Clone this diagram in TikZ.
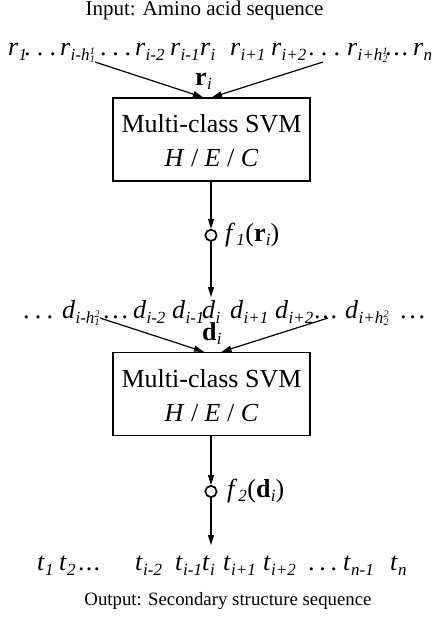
\documentclass[tikz,border=0pt]{standalone}
\usepackage{fontspec}
\setmainfont{Liberation Serif}
\usetikzlibrary{arrows.meta}
\newcommand\sqfont{\fontsize{26}{30}\selectfont}
\newcommand\sbfont{\fontsize{17}{17}\selectfont}
\newcommand\tnfont{\fontsize{10}{10}\selectfont}
\newcommand\sq[2]{\textit{#1}\kern0.3pt\lower5pt\hbox{\sbfont\itshape #2}}
\newcommand\hh[2]{h\kern0.3pt\rlap{\raise6pt\hbox{\tnfont\itshape #2}}\lower2pt\hbox{\tnfont\itshape #1}}
\newcommand\dts[1]{\hbox to #1{.\hfil.\hfil.}}
\newcommand\bsq[2]{\textbf{#1}\kern0.3pt\lower4pt\hbox{\sbfont\itshape #2}}
\begin{document}
\begin{tikzpicture}[x=1pt,y=-1pt,
  seq/.style={anchor=base west, inner sep=0pt, font=\sqfont},
  svm/.style={draw, line width=1.4pt, minimum width=197pt, minimum height=83pt, inner sep=0pt},
  svmtxt/.style={anchor=base, inner sep=0pt, font=\fontsize{26}{30}\selectfont},
  arr/.style={-{Triangle[length=10pt,width=6pt]}, line width=1.2pt},
  junc/.style={circle, draw, line width=1.7pt, minimum size=11.3pt, inner sep=0pt},
  captxt/.style={anchor=base, inner sep=0pt}]
\useasboundingbox (0,0) rectangle (436,619);
% input caption
\node[captxt, font=\fontsize{21}{24}\selectfont] (inp) at (204.5,15) {Input: Amino acid sequence};
% r row
\node[seq] (r1) at (8,55) {\sq{r}{1}};
\node[seq] (rd1) at (24,55) {\dts{32pt}};
\node[seq] (rh1) at (60,55) {\sq{r}{i-\hh{1}{1}}};
\node[seq] (rd2) at (100,55) {\dts{31pt}};
\node[seq] (rm2) at (135,55) {\sq{r}{i-2}};
\node[seq] (rm1) at (170,55) {\sq{r}{i-1}};
\node[seq] (ri) at (200,55) {\sq{r}{i}};
\node[seq] (rp1) at (230,55) {\sq{r}{i+1}};
\node[seq] (rp2) at (271,55) {\sq{r}{i+2}};
\node[seq] (rd3) at (308,55) {\dts{32pt}};
\node[seq] (rh2) at (347,55) {\sq{r}{i+\hh{2}{1}}};
\node[seq] (rd4) at (385,55) {\dts{23pt}};
\node[seq] (rn) at (413,55) {\sq{r}{n}};
\node[seq] (rvec) at (195,85) {\bsq{r}{i}};
% box 1
\node[svm] (box1) at (211.5,139.5) {};
\node[svmtxt] (box1a) at (211.5,132.5) {Multi-class SVM};
\node[svmtxt] (box1b) at (211.5,166.5) {\textit{H} / \textit{E} / \textit{C}};
\coordinate (s1) at (95,62);
\coordinate (s2) at (323,62);
\draw[arr] (s1) -- ([xshift=-8.5pt]box1.north);
\draw[arr] (s2) -- ([xshift=0.5pt]box1.north);
% junction 1
\node[junc] (c1) at (211,235.3) {};
\node[seq, font=\fontsize{26}{30}\selectfont] (f1) at (225,241) {\textit{f}\kern1pt\lower4pt\hbox{\sbfont\itshape 1}\kern0.5pt(\bsq{r}{i})};
\coordinate (dtop) at (211,297);
\draw[arr] (box1.south -| c1) -- (c1.north);
\draw[arr] (c1.south) -- (dtop);
% d row
\node[seq] (dd1) at (23,318) {\dts{30pt}};
\node[seq] (dh1) at (62,318) {\sq{d}{i-\hh{1}{2}}};
\node[seq] (dd2) at (103,318) {\dts{25pt}};
\node[seq] (dm2) at (133,318) {\sq{d}{i-2}};
\node[seq] (dm1) at (172,318) {\sq{d}{i-1}};
\node[seq] (di) at (202,318) {\sq{d}{i}};
\node[seq] (dp1) at (230,318) {\sq{d}{i+1}};
\node[seq] (dp2) at (275,318) {\sq{d}{i+2}};
\node[seq] (dd3) at (314,318) {\dts{23pt}};
\node[seq] (dh2) at (345,318) {\sq{d}{i+\hh{2}{2}}};
\node[seq] (dd4) at (400,318) {\dts{25pt}};
\node[seq] (dvec) at (202,340) {\bsq{d}{i}};
% box 2
\node[svm] (box2) at (211.5,394) {};
\node[svmtxt] (box2a) at (211.5,387.5) {Multi-class SVM};
\node[svmtxt] (box2b) at (211.5,421.5) {\textit{H} / \textit{E} / \textit{C}};
\coordinate (s3) at (100,318);
\coordinate (s4) at (328,318);
\draw[arr] (s3) -- ([xshift=-7.5pt]box2.north);
\draw[arr] (s4) -- ([xshift=10pt]box2.north);
% junction 2
\node[junc] (c2) at (211,491.5) {};
\node[seq, font=\fontsize{26}{30}\selectfont] (f2) at (227,497.5) {\textit{f}\kern1pt\lower4pt\hbox{\sbfont\itshape 2}\kern0.5pt(\bsq{d}{i})};
\coordinate (ttop) at (211,545);
\draw[arr] (box2.south -| c2) -- (c2.north);
\draw[arr] (c2.south) -- (ttop);
% t row
\node[seq] (t1) at (37,570) {\sq{t}{1}};
\node[seq] (t2) at (59,570) {\sq{t}{2}};
\node[seq] (td1) at (78,570) {\dts{22pt}};
\node[seq] (tm2) at (135,570) {\sq{t}{i-2}};
\node[seq] (tm1) at (175,570) {\sq{t}{i-1}};
\node[seq] (ti) at (202,570) {\sq{t}{i}};
\node[seq] (tp1) at (223,570) {\sq{t}{i+1}};
\node[seq] (tp2) at (263,570) {\sq{t}{i+2}};
\node[seq] (td2) at (308,570) {\dts{29pt}};
\node[seq] (tn1) at (343,570) {\sq{t}{n-1}};
\node[seq] (tn) at (390,570) {\sq{t}{n}};
% output caption
\node[captxt, font=\fontsize{18.8}{22}\selectfont] (outp) at (228,605) {Output: Secondary structure sequence};
\end{tikzpicture}
\end{document}
